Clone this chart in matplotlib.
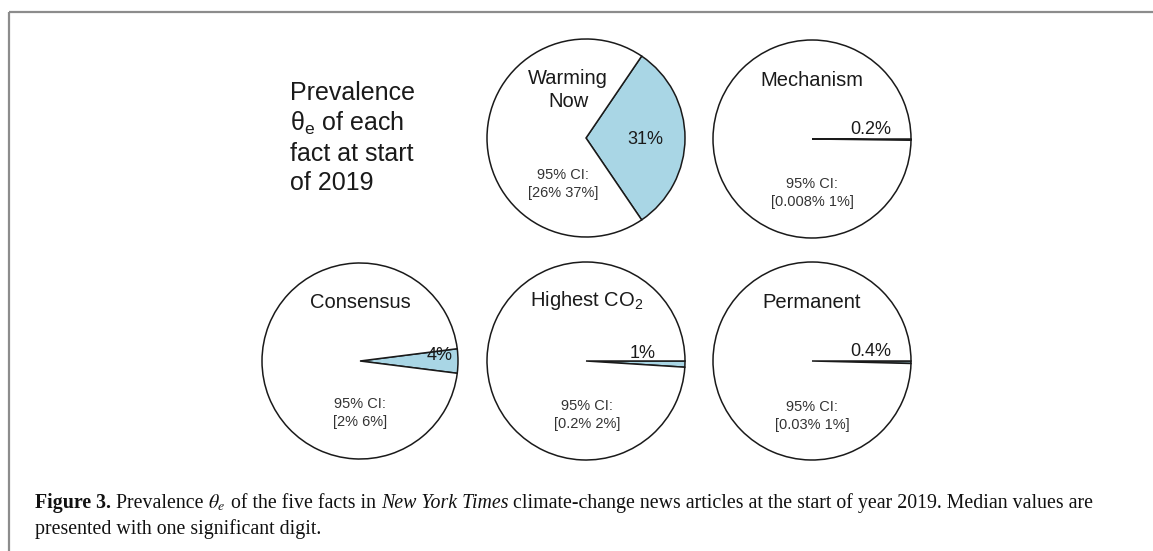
import matplotlib
matplotlib.use("Agg")
import matplotlib.pyplot as plt

plt.rcParams['font.family'] = ['Liberation Sans', 'DejaVu Sans']
plt.rcParams['mathtext.fontset'] = 'custom'
plt.rcParams['mathtext.rm'] = 'Liberation Sans'
plt.rcParams['mathtext.it'] = 'Liberation Sans:italic'
plt.rcParams['mathtext.bf'] = 'Liberation Sans:bold'

# Données : prévalence médiane et IC 95 % de chaque fait
facts = ['Warming\nNow', 'Mechanism', 'Consensus', 'Highest CO$_2$', 'Permanent']
median_pct = [31, 0.2, 4, 1, 0.4]
ci_low = ['26%', '0.008%', '2%', '0.2%', '0.03%']
ci_high = ['37%', '1%', '6%', '2%', '1%']

W, H = 1153, 551
BLUE = '#a9d6e5'
INK = '#1a1a1a'

fig = plt.figure(figsize=(W / 100, H / 100), dpi=100)
ax = fig.add_axes([0, 0, 1, 1])


def Y(y):
    return H - y


# position des camemberts (pixels) : centre, rayon, label, IC, centré ou non
layout = [
    dict(c=(586, 138), r=99, title=(568, 90), ci=(563, 184), lab=(645, 139), centred=True),
    dict(c=(812, 139), r=99, title=(812, 80), ci=(812, 193), lab=(871, 130), centred=False),
    dict(c=(360, 361), r=98, title=(360, 302), ci=(360, 413), lab=(440, 355), centred=True),
    dict(c=(586, 361), r=99, title=(587, 301), ci=(587, 415), lab=(643, 353), centred=False),
    dict(c=(812, 361), r=99, title=(812, 302), ci=(812, 416), lab=(871, 352), centred=False),
]

for name, pct, lo, hi, L in zip(facts, median_pct, ci_low, ci_high, layout):
    start = pct * 3.6 / 2 if L['centred'] else 0
    ax.pie([pct, 100 - pct], center=(L['c'][0], Y(L['c'][1])), radius=L['r'],
           startangle=start, counterclock=False, colors=[BLUE, 'white'],
           wedgeprops=dict(edgecolor=INK, linewidth=1.1), frame=True)
    ax.text(L['title'][0], Y(L['title'][1]), name, ha='center', va='center',
            fontsize=14.5, color=INK, linespacing=1.3)
    ax.text(L['lab'][0], Y(L['lab'][1]), f"{pct:g}%", ha='center', va='center',
            fontsize=13, color=INK)
    ax.text(L['ci'][0], Y(L['ci'][1]), f"95% CI:\n[{lo} {hi}]", ha='center', va='center',
            fontsize=10.5, color='#333333', linespacing=1.3)

ax.text(290, Y(138), 'Prevalence\n$\\mathrm{θ}_\\mathrm{e}$ of each\nfact at start\nof 2019',
        ha='left', va='center', fontsize=18, color=INK, linespacing=1.25)

# cadre gris
ax.plot([9, W], [Y(12), Y(12)], color='#8c8c8c', lw=1.6, solid_capstyle='butt')
ax.plot([9, 9], [Y(12), 0], color='#8c8c8c', lw=1.6, solid_capstyle='butt')

ax.set_xlim(0, W)
ax.set_ylim(0, H)
ax.set_aspect('auto')
ax.axis('off')

# Légende de la figure (texte riche, morceau par morceau)
renderer = fig.canvas.get_renderer()
serif = 'Liberation Serif'
cap_size = 14.3


def draw_runs(x, y, runs):
    for s, kw in runs:
        t = ax.text(x, Y(y), s, fontsize=cap_size, family=serif, va='baseline',
                    color='#111111', **kw)
        x += t.get_window_extent(renderer=renderer).width


line1 = [
    ('Figure 3.', dict(weight='bold')),
    (' Prevalence ', {}),
    (r'$\theta_e$', dict(math_fontfamily='stix')),
    (' of the five facts in ', {}),
    ('New York Times', dict(style='italic')),
    (' climate-change news articles at the start of year 2019. Median values are', {}),
]
line2 = [('presented with one significant digit.', {})]
draw_runs(35, 508, line1)
draw_runs(35, 534, line2)

fig.savefig('out.png', dpi=100)
